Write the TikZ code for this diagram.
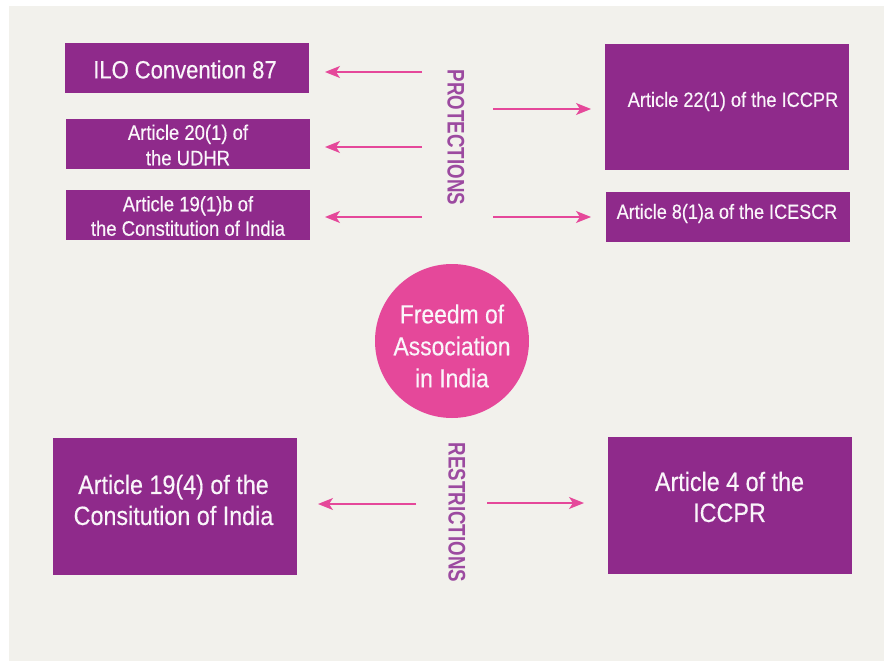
\documentclass[tikz,border=0pt]{standalone}
\usepackage{fontspec}
\setmainfont{Liberation Sans}[FakeStretch=0.88,FakeBold=0.35]
\newfontfamily\lblfont{Liberation Sans}[FakeStretch=0.78]
\usetikzlibrary{arrows.meta}
\definecolor{bgc}{HTML}{F2F1EC}
\definecolor{boxc}{HTML}{8F2A8B}
\definecolor{pinkc}{HTML}{E5489A}
\definecolor{lblc}{HTML}{9C4AA0}
\definecolor{txtc}{HTML}{FAF5FA}
\tikzset{
  box/.style={fill=boxc, draw=none, inner sep=0pt, minimum width=244pt},
  boxtext/.style={text=txtc, align=center, inner sep=0pt},
  arr/.style={draw=pinkc, line width=1.4pt, -{Stealth[length=15pt,width=12pt,inset=4pt]}},
  sidelbl/.style={text=lblc, font=\lblfont\bfseries\fontsize{24}{24}\selectfont, rotate=-90, inner sep=0pt},
  circ/.style={circle, fill=pinkc, draw=none, minimum size=154pt, inner sep=0pt}
}
\begin{document}
\begin{tikzpicture}[x=1pt,y=-1pt]
\useasboundingbox (0,0) rectangle (884,661);
\fill[white] (0,0) rectangle (884,661);
\fill[bgc] (9,6) rectangle (884,661);

% top-left boxes
\node[box, minimum height=50pt] (ilo) at (186.5,68) {};
\node[boxtext, font=\fontsize{25}{30}\selectfont] (iloT) at (185,69.5) {ILO Convention 87};
\node[box, minimum height=50pt] (udhr) at (188,144) {};
\node[boxtext, font=\fontsize{21}{25.5}\selectfont] (udhrT) at (188,145) {Article 20(1) of\\the UDHR};
\node[box, minimum height=50pt] (coi) at (188,215) {};
\node[boxtext, font=\fontsize{21}{24.5}\selectfont] (coiT) at (188,216) {Article 19(1)b of\\the Constitution of India};

% top-right boxes
\node[box, minimum height=126pt] (iccpr) at (727,107) {};
\node[boxtext, font=\fontsize{20.7}{25}\selectfont] (iccprT) at (733,101.5) {Article 22(1) of the ICCPR};
\node[box, minimum height=50pt] (icescr) at (728,217) {};
\node[boxtext, font=\fontsize{20.5}{25}\selectfont] (icescrT) at (727,213.5) {Article 8(1)a of the ICESCR};

% centre circle
\node[circ] (foa) at (452,341) {};
\node[boxtext, font=\fontsize{26}{32}\selectfont] (foaT) at (452,346) {Freedm of\\Association\\in India};

% bottom boxes
\node[box, minimum height=137pt] (r194) at (175,506.5) {};
\node[boxtext, font=\fontsize{26.5}{31}\selectfont] (r194T) at (173.5,500) {Article 19(4) of the\\Consitution of India};
\node[box, minimum height=137pt] (r4) at (730,505.5) {};
\node[boxtext, font=\fontsize{26.5}{31}\selectfont] (r4T) at (729.5,497) {Article 4 of the\\ICCPR};

% side labels
\node[sidelbl] (prot) at (456,137.5) {PROTECTIONS};
\node[sidelbl] (restr) at (457,512.5) {RESTRICTIONS};

% arrow endpoints
\coordinate (a1s) at (422,72);  \coordinate (a1e) at (325,72);
\coordinate (a2s) at (422,147); \coordinate (a2e) at (325,147);
\coordinate (a3s) at (422,217); \coordinate (a3e) at (325,217);
\coordinate (a4s) at (493,109); \coordinate (a4e) at (591,109);
\coordinate (a5s) at (493,217); \coordinate (a5e) at (591,217);
\coordinate (a6s) at (416,504); \coordinate (a6e) at (318,504);
\coordinate (a7s) at (487,503); \coordinate (a7e) at (584,503);

\draw[arr] (a1s) -- (a1e);
\draw[arr] (a2s) -- (a2e);
\draw[arr] (a3s) -- (a3e);
\draw[arr] (a4s) -- (a4e);
\draw[arr] (a5s) -- (a5e);
\draw[arr] (a6s) -- (a6e);
\draw[arr] (a7s) -- (a7e);
\end{tikzpicture}
\end{document}
